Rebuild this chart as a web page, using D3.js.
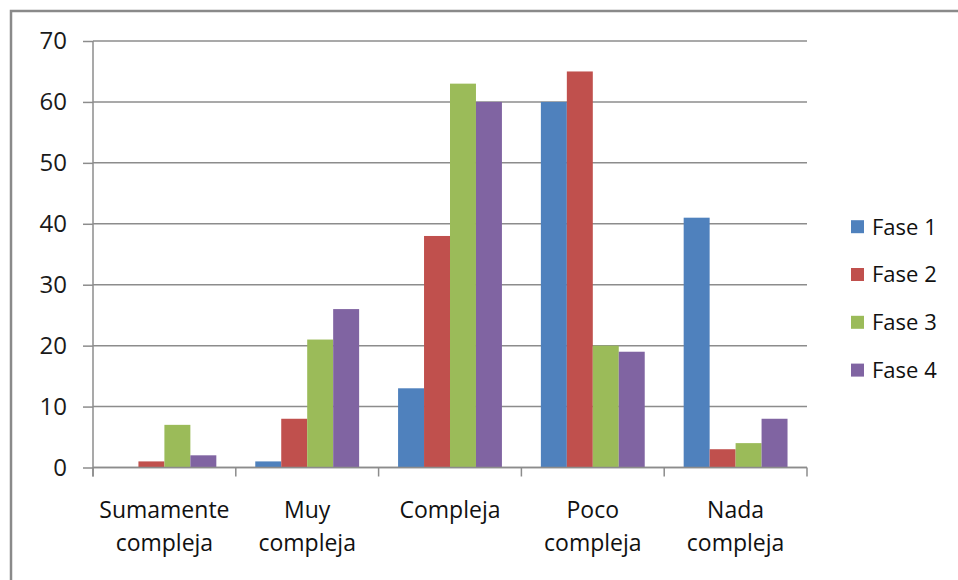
<!DOCTYPE html>
<html><head><meta charset="utf-8">
<script src="https://cdn.jsdelivr.net/npm/d3@7"></script>
<style>html,body{margin:0;padding:0;background:#fff;}svg{display:block;}</style>
</head><body>
<svg id="chart" width="958" height="580"></svg>
<script>
const categories = [["Sumamente","compleja"],["Muy","compleja"],["Compleja"],["Poco","compleja"],["Nada","compleja"]];
const seriesNames = ["Fase 1","Fase 2","Fase 3","Fase 4"];
const fase1 = [0, 1, 13, 60, 41];
const fase2 = [1, 8, 38, 65, 3];
const fase3 = [7, 21, 63, 20, 4];
const fase4 = [2, 26, 60, 19, 8];
const yTicks = [0,10,20,30,40,50,60,70];
const colors = ["#4F81BD","#C0504D","#9BBB59","#8064A2"];

(function(){
const series = [fase1, fase2, fase3, fase4];
const svg = d3.select("#chart");
const font = "'Open Sans', sans-serif";

// outer border
svg.append("path").attr("d","M11,590 V11 H970").attr("fill","none").attr("stroke","#8a8a8a").attr("stroke-width",2.5);

const pLeft = 93, pRight = 807, pTop = 41, pBottom = 467.5;
const x = d3.scaleBand().domain(d3.range(categories.length)).range([pLeft, pRight]).paddingInner(0).paddingOuter(0);
const bw = x.bandwidth() / 5.5;
const xs = d3.scaleBand().domain(d3.range(4)).range([0.75*bw, 4.75*bw]);
const y = d3.scaleLinear().domain([0,70]).range([pBottom, pTop]);

// gridlines
svg.append("g").selectAll("line").data(yTicks).join("line")
  .attr("x1", pLeft).attr("x2", pRight).attr("y1", d=>y(d)).attr("y2", d=>y(d))
  .attr("stroke","#8c8c8c").attr("stroke-width",1.5);

// bars
const g = svg.append("g");
series.forEach((vals, si) => {
  g.selectAll(null).data(vals).join("rect")
    .attr("x", (d,i) => x(i) + xs(si))
    .attr("width", xs.bandwidth())
    .attr("y", d => y(d))
    .attr("height", d => y(0) - y(d))
    .attr("fill", colors[si]);
});

// y axis
const yAxis = svg.append("g").attr("transform",`translate(${pLeft},0)`)
  .call(d3.axisLeft(y).tickValues(yTicks).tickSize(10).tickPadding(16).tickFormat(d3.format("d")));
yAxis.select(".domain").attr("stroke","#8c8c8c").attr("stroke-width",1.5).attr("d",`M0,${pTop}V${pBottom+9}`);
yAxis.selectAll(".tick line").attr("stroke","#8c8c8c").attr("stroke-width",1.5);
yAxis.selectAll(".tick text").attr("font-family",font).attr("font-size",24).attr("fill","#1a1a1a");

// x axis
const xAxis = svg.append("g").attr("transform",`translate(0,${pBottom})`);
xAxis.append("line").attr("x1",pLeft).attr("x2",pRight).attr("stroke","#8c8c8c").attr("stroke-width",1.5);
const bounds = d3.range(categories.length+1).map(i => i < categories.length ? x(i) : pRight);
xAxis.selectAll("line.tk").data(bounds).join("line").attr("class","tk")
  .attr("x1",d=>d).attr("x2",d=>d).attr("y1",0).attr("y2",9)
  .attr("stroke","#8c8c8c").attr("stroke-width",1.5);
const lbl = svg.append("g").selectAll("text").data(categories).join("text")
  .attr("text-anchor","middle").attr("font-family",font).attr("font-size",23).attr("fill","#111");
lbl.each(function(lines, i){
  const t = d3.select(this);
  lines.forEach((ln, k) => {
    t.append("tspan").attr("x", x(i) + x.bandwidth()/2).attr("y", 518 + k*33).text(ln);
  });
});

// legend
const leg = svg.append("g");
seriesNames.forEach((n, i) => {
  const cy = 226.7 + i*47.8;
  leg.append("rect").attr("x",851).attr("y",cy-6.5).attr("width",13).attr("height",13).attr("fill",colors[i]);
  leg.append("text").attr("x",872).attr("y",cy).attr("dy","0.36em")
    .attr("font-family",font).attr("font-size",22).attr("fill","#111").text(n);
});
})();
</script>
</body></html>
